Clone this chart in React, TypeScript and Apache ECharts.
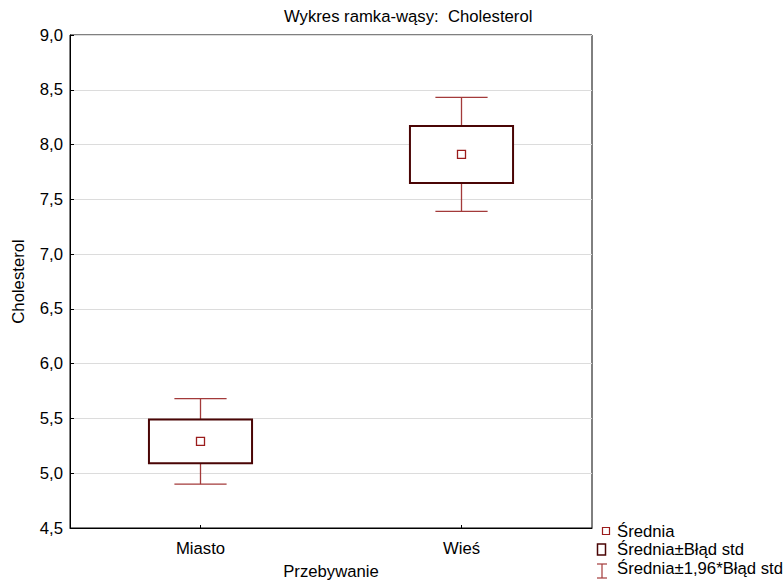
import React, { useEffect, useRef } from "react";
import * as echarts from "echarts";

const categories = ["Miasto", "Wieś"];
const means = [5.29, 7.91];
const seLow = [5.09, 7.65];
const seHigh = [5.49, 8.17];
const ciLow = [4.9, 7.39];
const ciHigh = [5.68, 8.43];
const yTicks = { min: 4.5, max: 9.0, interval: 0.5 };

const FONT = "'Liberation Sans', Arial, sans-serif";
const FS = 16.7;
const BOX_COLOR = "#4a0505";
const WHISKER_COLOR = "#a33a3a";
const MEAN_COLOR = "#9b1c1c";

export default function App() {
  const ref = useRef<HTMLDivElement>(null);
  useEffect(() => {
    if (!ref.current) return;
    const chart = echarts.init(ref.current, undefined, { renderer: "svg" });
    const data = categories.map((c, i) => [i, means[i], seLow[i], seHigh[i], ciLow[i], ciHigh[i]]);
    const txt = (text: string, x: number, y: number) => ({
      type: "text",
      x,
      y,
      style: { text, fontFamily: FONT, fontSize: FS, fill: "#000", verticalAlign: "middle" },
    });
    const option: any = {
      animation: false,
      textStyle: { fontFamily: FONT },
      title: {
        text: "Wykres ramka-wąsy:  Cholesterol",
        left: 279,
        top: 3,
        textStyle: { fontFamily: FONT, fontSize: FS, fontWeight: "normal", color: "#000" },
      },
      grid: {
        left: 70,
        top: 35,
        right: 192,
        bottom: 54,
        show: true,
        borderColor: "#000",
        borderWidth: 1,
        backgroundColor: "transparent",
        outerBoundsMode: "none",
        containLabel: false,
      },
      xAxis: {
        type: "category",
        data: categories,
        name: "Przebywanie",
        nameLocation: "middle",
        nameGap: 35,
        nameTextStyle: { fontFamily: FONT, fontSize: FS, color: "#000" },
        axisLine: { show: true, lineStyle: { color: "#000", width: 1 } },
        axisTick: { show: true, inside: true, length: 3, alignWithLabel: true, lineStyle: { color: "#000" } },
        axisLabel: { fontFamily: FONT, fontSize: FS, color: "#000", margin: 12 },
        splitLine: { show: false },
      },
      yAxis: {
        type: "value",
        min: yTicks.min,
        max: yTicks.max,
        interval: yTicks.interval,
        name: "Cholesterol",
        nameLocation: "middle",
        nameGap: 43,
        nameTextStyle: { fontFamily: FONT, fontSize: FS, color: "#000" },
        axisLine: { show: true, lineStyle: { color: "#000", width: 1 } },
        axisTick: { show: true, inside: true, length: 4, lineStyle: { color: "#000" } },
        axisLabel: {
          fontFamily: FONT,
          fontSize: FS,
          color: "#000",
          margin: 7,
          formatter: (v: number) => v.toFixed(1).replace(".", ","),
        },
        splitLine: { show: true, lineStyle: { color: "#dcdcdc", width: 1 } },
      },
      series: [
        {
          type: "custom",
          name: "box",
          data,
          encode: { x: 0, y: [1, 2, 3, 4, 5] },
          renderItem: (params: any, api: any) => {
            const idx = api.value(0);
            const band = api.size([1, 0])[0];
            const boxW = band * 0.395;
            const capW = band * 0.2;
            const pMean = api.coord([idx, api.value(1)]);
            const pSeL = api.coord([idx, api.value(2)]);
            const pSeH = api.coord([idx, api.value(3)]);
            const pCiL = api.coord([idx, api.value(4)]);
            const pCiH = api.coord([idx, api.value(5)]);
            const x = pMean[0];
            const wStyle = { stroke: WHISKER_COLOR, lineWidth: 1.3, fill: null };
            return {
              type: "group",
              children: [
                { type: "line", shape: { x1: x, y1: pCiH[1], x2: x, y2: pSeH[1] }, style: wStyle },
                { type: "line", shape: { x1: x, y1: pSeL[1], x2: x, y2: pCiL[1] }, style: wStyle },
                { type: "line", shape: { x1: x - capW / 2, y1: pCiH[1], x2: x + capW / 2, y2: pCiH[1] }, style: wStyle },
                { type: "line", shape: { x1: x - capW / 2, y1: pCiL[1], x2: x + capW / 2, y2: pCiL[1] }, style: wStyle },
                {
                  type: "rect",
                  shape: { x: x - boxW / 2, y: pSeH[1], width: boxW, height: pSeL[1] - pSeH[1] },
                  style: { stroke: BOX_COLOR, lineWidth: 2, fill: "#fff" },
                },
                {
                  type: "rect",
                  shape: { x: x - 4, y: pMean[1] - 4, width: 8, height: 8 },
                  style: { stroke: MEAN_COLOR, lineWidth: 1.3, fill: "#fff" },
                },
              ],
            };
          },
        },
      ],
      graphic: [
        { type: "rect", shape: { x: 602.5, y: 527.5, width: 7, height: 7 }, style: { stroke: MEAN_COLOR, lineWidth: 1.2, fill: "#fff" } },
        txt("Średnia", 617, 531),
        { type: "rect", shape: { x: 597.5, y: 544, width: 8, height: 11 }, style: { stroke: BOX_COLOR, lineWidth: 1.5, fill: "#fff" } },
        txt("Średnia±Błąd std", 617, 549),
        { type: "line", shape: { x1: 597, y1: 564, x2: 607, y2: 564 }, style: { stroke: WHISKER_COLOR, lineWidth: 1.2 } },
        { type: "line", shape: { x1: 597, y1: 578, x2: 607, y2: 578 }, style: { stroke: WHISKER_COLOR, lineWidth: 1.2 } },
        { type: "line", shape: { x1: 602, y1: 564, x2: 602, y2: 578 }, style: { stroke: WHISKER_COLOR, lineWidth: 1.2 } },
        txt("Średnia±1,96*Błąd std", 617, 568),
      ],
    };
    chart.setOption(option);
    return () => chart.dispose();
  }, []);
  return <div ref={ref} style={{ width: 784, height: 582, position: "absolute", left: 0, top: 0 }} />;
}
